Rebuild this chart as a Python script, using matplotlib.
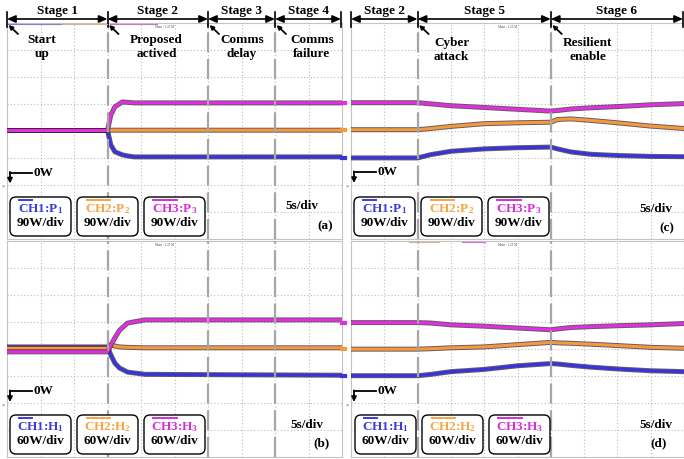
import matplotlib

matplotlib.use("Agg")

import matplotlib.patheffects as pe
import matplotlib.pyplot as plt
import numpy as np
from matplotlib.patches import FancyBboxPatch

plt.rcParams["font.family"] = ["Liberation Serif", "DejaVu Serif"]
plt.rcParams["font.weight"] = "bold"
plt.rcParams["mathtext.fontset"] = "custom"
plt.rcParams["mathtext.rm"] = "Liberation Serif:bold"
plt.rcParams["mathtext.it"] = "Liberation Serif:bold"
plt.rcParams["mathtext.bf"] = "Liberation Serif:bold"

# ---- data (time in s, power in W) ----
time_a = [0, 15, 15.5, 16.1, 17.2, 18, 19, 50]
p1_a = [140, 140, 92, 69, 59, 55, 52, 52]
p2_a = [140, 140, 141, 141, 141, 141, 141, 141]
p3_a = [140, 140, 192, 219, 235, 234, 232, 232]

time_b = [0, 15, 15.5, 16.1, 16.8, 18.0, 20.6, 50]
h1_b = [98, 98, 80, 62, 51, 42, 37, 35]
h2_b = [95, 95, 102, 100, 98, 97, 96, 96]
h3_b = [87, 87, 102, 118, 135, 151, 158, 158]

time_cd = [0, 10, 12, 15, 20, 25, 30, 31, 33, 36, 40, 45, 50]
p1_c = [47, 47, 58, 69, 77, 81, 83, 77, 67, 59, 55, 52, 51]
p2_c = [141, 141, 145, 152, 161, 164, 166, 175, 177, 172, 164, 153, 145]
p3_c = [231, 231, 227, 221, 215, 209, 203, 205, 210, 214, 218, 224, 228]
h1_d = [34, 34, 37, 43, 48, 56, 61, 60, 57, 53, 49, 45, 43]
h2_d = [93, 93, 94, 96, 98, 103, 108, 107, 106, 104, 101, 97, 95]
h3_d = [152, 152, 151, 147, 144, 140, 136, 138, 141, 143, 145, 147, 150]

stages_left = [0, 15, 30, 40, 50]
stage_names_left = ["Stage 1", "Stage 2", "Stage 3", "Stage 4"]
stages_right = [0, 10, 30, 50]
stage_names_right = ["Stage 2", "Stage 5", "Stage 6"]
events_left = [(0, "Start\nup", 35), (15, "Proposed\nactived", 49),
               (30, "Comms\ndelay", 34), (40, "Comms\nfailure", 37)]
events_right = [(10, "Cyber\nattack", 34), (30, "Resilient\nenable", 37)]

blue, orange, magenta = "#3434e0", "#f29a3c", "#e02ee0"
text_colors = ["#3b3bd9", "#f7a445", "#d62fd6"]

W, H = 684, 459
fig = plt.figure(figsize=(W / 100, H / 100), dpi=100)
ov = fig.add_axes([0, 0, 1, 1], zorder=10)
ov.set_xlim(0, W)
ov.set_ylim(H, 0)
ov.axis("off")
ov.patch.set_alpha(0)


def add_panel(x0, y0, x1, y1, zero_px, w_div):
    ax = fig.add_axes([x0 / W, 1 - y1 / H, (x1 - x0) / W, (y1 - y0) / H])
    px_div = (y1 - y0) / 8
    ax.set_xlim(0, 50)
    ax.set_ylim(-(y1 - zero_px) / px_div * w_div, (zero_px - y0) / px_div * w_div)
    ax.set_xticks(np.arange(5, 50, 5))
    ax.set_yticks([(zero_px - (y0 + k * px_div)) / px_div * w_div for k in range(1, 8)])
    ax.grid(True, color="#bcbcbc", linestyle=(0, (1, 2)), linewidth=0.8)
    ax.tick_params(length=0, labelleft=False, labelbottom=False)
    for spine in ax.spines.values():
        spine.set_color("#c4c4c4")
        spine.set_linewidth(0.8)
    return ax


def trace(ax, t, v, color):
    ax.plot(t, v, color=color, lw=2.2, zorder=3,
            path_effects=[pe.Stroke(linewidth=3.6, foreground="#3a2530", alpha=0.75),
                          pe.Normal()])


def t2px(t, x0, x1):
    return x0 + t / 50 * (x1 - x0)


panels = [
    # x0, y0, x1, y1, zero, W/div, series, stage lines, box lefts, labels, unit, tag
    (7, 23, 342, 239, 172.5, 90, time_a, [p1_a, p2_a, p3_a], [15, 30, 40],
     [10, 77, 144], "P", "90W/div", "(a)", (302, 206), (325, 226)),
    (7, 241, 342, 457, 391, 60, time_b, [h1_b, h2_b, h3_b], [15, 30, 40],
     [10, 77, 144], "H", "60W/div", "(b)", (307, 425), (322, 443)),
    (351, 23, 684, 239, 172, 90, time_cd, [p1_c, p2_c, p3_c], [10, 30],
     [354, 421, 488], "P", "90W/div", "(c)", (656, 209), (667, 228)),
    (351, 241, 684, 457, 391, 60, time_cd, [h1_d, h2_d, h3_d], [10, 30],
     [355, 422, 489], "H", "60W/div", "(d)", (656, 425), (659, 443)),
]

for (x0, y0, x1, y1, zero, wdiv, t, series, lines, box_lefts, sym, scale,
     tag, sdiv_xy, tag_xy) in panels:
    ax = add_panel(x0, y0, x1, y1, zero, wdiv)
    for vals, col in zip(series, [blue, orange, magenta]):
        trace(ax, t, vals, col)
        if x0 > 300:
            ax.plot([-1.3, -0.9], [vals[0], vals[0]], color=col, lw=3, clip_on=False)
    for s in lines:
        ax.axvline(s, color="#a6a6a6", lw=1.6, ls=(0, (9, 3)), zorder=4)
    # channel boxes
    box_top = y0 + 174
    bars = [(9, 22), (10, 33), (9, 33)]
    for i, bx in enumerate(box_lefts):
        ax.add_patch(FancyBboxPatch((bx, box_top), 61, 39,
                                    boxstyle="round,pad=0,rounding_size=6",
                                    fc="white", ec="black", lw=1.0,
                                    transform=ov.transData, zorder=5))
        ov.text(bx + 30.5, box_top + 12.5, f"CH{i + 1}:{sym}$_{i + 1}$",
                color=text_colors[i], fontsize=9.5, ha="center", va="center")
        ov.text(bx + 30.5, box_top + 26.5, scale, color="black",
                fontsize=9.5, ha="center", va="center")
        ov.plot([bx + bars[i][0], bx + bars[i][1]], [box_top + 3, box_top + 3],
                color=text_colors[i], lw=1.4)
    ov.text(*sdiv_xy, "5s/div", fontsize=9.5, ha="center", va="center")
    ov.text(*tag_xy, tag, fontsize=9.5, ha="center", va="center")
    # ground marker
    zx = x0 + 3
    ov.plot([zx, zx + 22], [zero, zero], color="black", lw=1.3)
    ov.annotate("", xy=(zx, zero + 11), xytext=(zx, zero - 0.6),
                arrowprops=dict(arrowstyle="-|>", color="black", lw=1.3,
                                mutation_scale=7, shrinkA=0, shrinkB=0))
    ov.text(zx + 23, zero, "0W", fontsize=9.5, ha="left", va="center")
    ov.text(x0 - 4, zero + 15, "*", fontsize=5, color="#d17fd1", ha="center", va="center")
    ov.text(t2px(23.5, x0, x1), y0 + 4, "Main : 1.25 M", fontsize=2.3,
            color="#444444", ha="center", va="center", fontweight="normal")

# stage headers
for bounds, names, events, x0, x1 in [
    (stages_left, stage_names_left, events_left, 7, 342),
    (stages_right, stage_names_right, events_right, 351, 684),
]:
    px = [t2px(b, x0, x1) for b in bounds]
    px[-1] -= 1
    for b in px:
        ov.plot([b, b], [12, 27], color="black", lw=1.2)
    for a, b, name in zip(px[:-1], px[1:], names):
        ov.annotate("", xy=(b, 19), xytext=(a, 19),
                    arrowprops=dict(arrowstyle="<|-|>,head_length=0.5,head_width=0.22",
                                    color="black", lw=1.2, shrinkA=0, shrinkB=0,
                                    mutation_scale=10))
        ov.text((a + b) / 2, 11, name, fontsize=9.5, ha="center", va="center")
    for t, label, dx in events:
        b = t2px(t, x0, x1)
        ov.annotate("", xy=(b + 1.5, 25), xytext=(b + 11, 34),
                    arrowprops=dict(arrowstyle="-|>", color="black", lw=1.3,
                                    mutation_scale=6, shrinkA=0, shrinkB=0))
        ov.text(b + dx, 47 if x0 < 300 else 50, label, fontsize=9.5, ha="center",
                va="center", linespacing=1.2)

# thin channel-status bars on the scope headers
ov.plot([8, 62], [24, 24], color="#8080d0", lw=0.8)
ov.plot([62, 107], [24, 24], color="#d9b38c", lw=0.8)
ov.plot([110, 157], [24, 24], color="#d070d0", lw=0.8)
ov.plot([409, 439], [242, 242], color="#d9b38c", lw=0.8)
ov.plot([462, 485], [242, 242], color="#d070d0", lw=0.8)

fig.savefig("out.png", dpi=100)
plt.close(fig)
